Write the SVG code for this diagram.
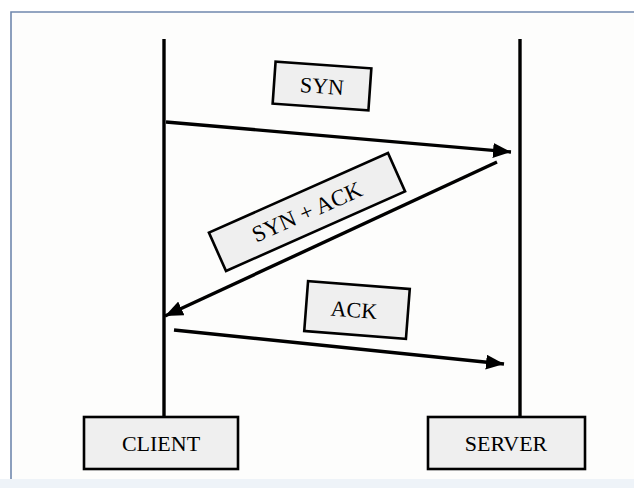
<svg xmlns="http://www.w3.org/2000/svg" width="634" height="488" viewBox="0 0 634 488">
<style>
.box{fill:#efefef;stroke:#000;stroke-width:2.6}
.life{stroke:#000;stroke-width:3.4;fill:none}
.msg{stroke:#000;stroke-width:3.4;fill:none;marker-end:url(#ah)}
.lbl{font-family:"Liberation Serif","Times New Roman",serif;font-size:22px;fill:#000;text-anchor:middle;dominant-baseline:central}
</style>
<defs>
<marker id="ah" markerUnits="userSpaceOnUse" markerWidth="19" markerHeight="15" refX="18" refY="7.5" orient="auto">
<path d="M0,0 L18,7.5 L0,15 z" fill="#000"/>
</marker>
</defs>
<rect x="0" y="0" width="634" height="488" fill="#ffffff"/>
<rect x="11" y="12" width="623" height="467" fill="#fdfdfc"/>
<rect x="0" y="479" width="634" height="9" fill="#eef3f8"/>
<path d="M11,479 L11,12 L634,12" fill="none" stroke="#7088ad" stroke-width="1.6"/>
<g id="lifelines">
<line class="life" x1="164" y1="39" x2="164" y2="417"/>
<line class="life" x1="520" y1="39" x2="520" y2="417"/>
</g>
<g id="connectors">
<line class="msg" x1="166" y1="122" x2="511" y2="152"/>
<line class="msg" x1="497" y1="162" x2="165" y2="316"/>
<line class="msg" x1="174" y1="330" x2="504" y2="364"/>
</g>
<g id="syn">
<g transform="translate(322,86) rotate(4)">
<rect class="box" x="-48" y="-21" width="96" height="42"/>
<text class="lbl" x="0" y="0">SYN</text>
</g>
</g>
<g id="synack">
<g transform="translate(307,212) rotate(-24)">
<rect class="box" x="-98" y="-21" width="196" height="42"/>
<text class="lbl" x="0" y="0" style="font-size:23px">SYN + ACK</text>
</g>
</g>
<g id="ack">
<g transform="translate(357,310) rotate(4.4)">
<rect class="box" x="-51" y="-25" width="102" height="50"/>
<text class="lbl" x="-3" y="0">ACK</text>
</g>
</g>
<g id="client">
<rect class="box" x="84" y="417" width="154" height="52"/>
<text class="lbl" x="161" y="443">CLIENT</text>
</g>
<g id="server">
<rect class="box" x="428" y="417" width="157" height="52"/>
<text class="lbl" x="506" y="443">SERVER</text>
</g>
</svg>
